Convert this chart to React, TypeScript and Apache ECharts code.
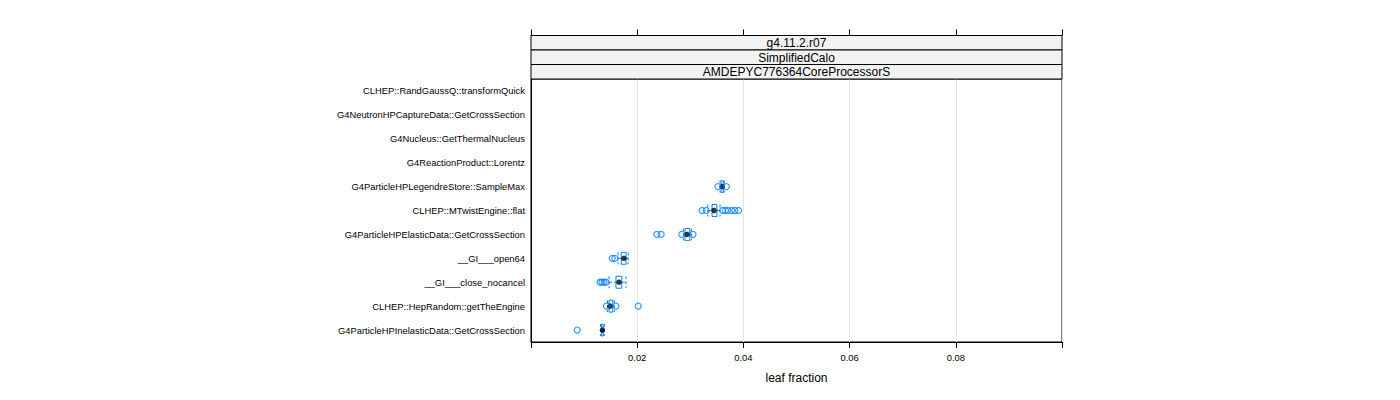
import React, { useEffect, useRef } from "react";
import * as echarts from "echarts";

const FONT = "'Liberation Sans', Arial, Helvetica, sans-serif";

const categories: string[] = [
  "CLHEP::RandGaussQ::transformQuick",
  "G4NeutronHPCaptureData::GetCrossSection",
  "G4Nucleus::GetThermalNucleus",
  "G4ReactionProduct::Lorentz",
  "G4ParticleHPLegendreStore::SampleMax",
  "CLHEP::MTwistEngine::flat",
  "G4ParticleHPElasticData::GetCrossSection",
  "__GI___open64",
  "__GI___close_nocancel",
  "CLHEP::HepRandom::getTheEngine",
  "G4ParticleHPInelasticData::GetCrossSection",
];

// [lower whisker, Q1, median, Q3, upper whisker]; null = no observations
const boxStats: (number[] | null)[] = [
  null,
  null,
  null,
  null,
  [0.0356, 0.0358, 0.036, 0.0362, 0.0364],
  [0.0333, 0.0341, 0.03446, 0.035, 0.0356],
  [0.0287, 0.029, 0.02938, 0.0299, 0.0302],
  [0.0164, 0.017, 0.0175, 0.0179, 0.0183],
  [0.0147, 0.016, 0.01657, 0.0171, 0.0179],
  [0.0144, 0.0147, 0.01488, 0.0154, 0.0157],
  [0.0131, 0.0133, 0.01345, 0.0136, 0.0138],
];

const outliers: number[][] = [
  [],
  [],
  [],
  [],
  [0.0352, 0.0368],
  [0.0322, 0.033, 0.0361, 0.0366, 0.0371, 0.0378, 0.0384, 0.0391],
  [0.0237, 0.0245, 0.0284, 0.0305],
  [0.0153, 0.0158],
  [0.013, 0.01337, 0.01375, 0.01412],
  [0.0142, 0.016, 0.0202],
  [0.0087],
];

const stripLabels: string[] = ["g4.11.2.r07", "SimplifiedCalo", "AMDEPYC776364CoreProcessorS"];
const xMin = 0;
const xMax = 0.1;
const xInterval = 0.02;
const xTitle = "leaf fraction";

const PANEL_L = 531;
const PANEL_R = 1062;
const PANEL_T = 79;
const PANEL_B = 342;
const STRIP_H = 14.5;

export default function App() {
  const ref = useRef<HTMLDivElement>(null);
  useEffect(() => {
    if (!ref.current) return;
    const chart = echarts.init(ref.current, undefined, { renderer: "svg" });

    const boxData: number[][] = [];
    const medData: number[][] = [];
    boxStats.forEach((s, i) => {
      if (s) {
        boxData.push([i, ...s]);
        medData.push([s[2], i]);
      }
    });
    const outData: number[][] = [];
    outliers.forEach((arr, i) => arr.forEach((v) => outData.push([v, i])));

    const stripTop = PANEL_T - STRIP_H * stripLabels.length;
    const graphics: any[] = [];
    stripLabels.forEach((t, k) => {
      const y = stripTop + k * STRIP_H;
      graphics.push({
        type: "rect",
        z: 10,
        shape: { x: PANEL_L, y, width: PANEL_R - PANEL_L, height: STRIP_H },
        style: { fill: "#f2f2f2", stroke: "#000", lineWidth: 1 },
      });
      graphics.push({
        type: "text",
        z: 11,
        x: (PANEL_L + PANEL_R) / 2,
        y: y + STRIP_H / 2 + 0.5,
        style: {
          text: t,
          fontSize: 12,
          fontFamily: FONT,
          fill: "#000",
          align: "center",
          verticalAlign: "middle",
        },
      });
    });

    const tickFmt = (v: number) => (v <= xMin + 1e-9 || v >= xMax - 1e-9 ? "" : v.toFixed(2));

    chart.setOption({
      animation: false,
      grid: {
        left: PANEL_L,
        right: 1400 - PANEL_R,
        top: PANEL_T,
        bottom: 400 - PANEL_B,
        show: true,
        borderColor: "#000",
        borderWidth: 1,
        backgroundColor: "transparent",
      },
      xAxis: [
        {
          type: "value",
          position: "bottom",
          min: xMin,
          max: xMax,
          interval: xInterval,
          axisLine: { show: true, lineStyle: { color: "#000", width: 1 } },
          axisTick: { show: true, length: 6, inside: false, lineStyle: { color: "#000" } },
          axisLabel: { formatter: tickFmt, fontSize: 9.4, fontFamily: FONT, color: "#000", margin: 11 },
          splitLine: { show: true, lineStyle: { color: "#e6e6e6", width: 1 } },
          name: xTitle,
          nameLocation: "middle",
          nameGap: 30,
          nameTextStyle: { fontSize: 12, fontFamily: FONT, color: "#000" },
        },
        {
          type: "value",
          position: "top",
          offset: STRIP_H * stripLabels.length,
          min: xMin,
          max: xMax,
          interval: xInterval,
          axisLine: { show: true, lineStyle: { color: "#000", width: 1 } },
          axisTick: { show: true, length: 6, inside: false, lineStyle: { color: "#000" } },
          axisLabel: { show: false },
          splitLine: { show: false },
        },
      ],
      yAxis: {
        type: "category",
        data: categories,
        inverse: true,
        axisLine: { show: true, lineStyle: { color: "#000" } },
        axisTick: { show: false },
        axisLabel: { fontSize: 9.4, fontFamily: FONT, color: "#000", margin: 6 },
        splitLine: { show: false },
      },
      graphic: graphics,
      series: [
        {
          type: "custom",
          xAxisIndex: 0,
          data: boxData,
          encode: { x: [1, 2, 3, 4, 5], y: 0 },
          renderItem: (params: any, api: any) => {
            const cat = api.value(0);
            const lo = api.coord([api.value(1), cat]);
            const q1 = api.coord([api.value(2), cat]);
            const q3 = api.coord([api.value(4), cat]);
            const hi = api.coord([api.value(5), cat]);
            const h = api.size([0, 1])[1] * 0.5;
            const y = lo[1];
            const ls = { stroke: "#0080ff", lineWidth: 1, lineDash: [3, 2], fill: null };
            return {
              type: "group",
              children: [
                { type: "line", shape: { x1: lo[0], y1: y, x2: q1[0], y2: y }, style: ls },
                { type: "line", shape: { x1: q3[0], y1: y, x2: hi[0], y2: y }, style: ls },
                { type: "line", shape: { x1: lo[0], y1: y - h / 2, x2: lo[0], y2: y + h / 2 }, style: ls },
                { type: "line", shape: { x1: hi[0], y1: y - h / 2, x2: hi[0], y2: y + h / 2 }, style: ls },
                {
                  type: "rect",
                  shape: { x: q1[0], y: y - h / 2, width: q3[0] - q1[0], height: h },
                  style: { fill: "none", stroke: "#0080ff", lineWidth: 1 },
                },
              ],
            };
          },
        },
        {
          type: "scatter",
          xAxisIndex: 0,
          data: medData,
          symbol: "circle",
          symbolSize: 5.5,
          itemStyle: { color: "#000" },
          z: 3,
        },
        {
          type: "scatter",
          xAxisIndex: 0,
          data: outData,
          symbol: "circle",
          symbolSize: 6,
          itemStyle: { color: "transparent", borderColor: "#0080ff", borderWidth: 1.2 },
          z: 4,
        },
      ],
    });
    return () => chart.dispose();
  }, []);
  return (
    <div
      ref={ref}
      style={{ position: "absolute", left: 0, top: 0, width: 1400, height: 400, background: "#fff" }}
    />
  );
}
